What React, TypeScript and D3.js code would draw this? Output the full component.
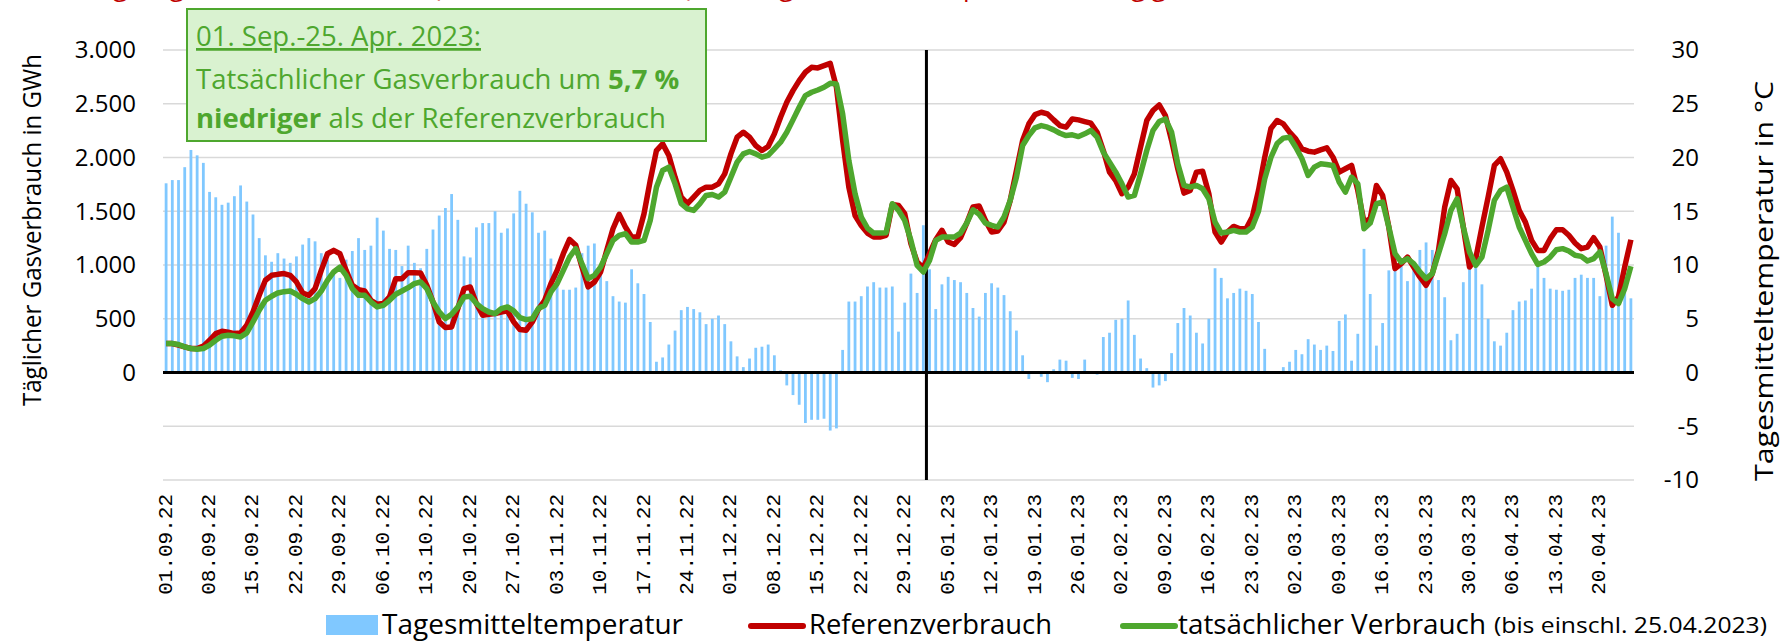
import React from 'react';
import * as d3 from 'd3';

// daily values 01.09.2022 - 25.04.2023
const firstDay = new Date(2022, 8, 1);
const dayAfterLast = new Date(2023, 3, 26);

const tickLabels = [
  '01.09.22', '08.09.22', '15.09.22', '22.09.22', '29.09.22', '06.10.22', '13.10.22', '20.10.22',
  '27.10.22', '03.11.22', '10.11.22', '17.11.22', '24.11.22', '01.12.22', '08.12.22', '15.12.22',
  '22.12.22', '29.12.22', '05.01.23', '12.01.23', '19.01.23', '26.01.23', '02.02.23', '09.02.23',
  '16.02.23', '23.02.23', '02.03.23', '09.03.23', '16.03.23', '23.03.23', '30.03.23', '06.04.23',
  '13.04.23', '20.04.23',
];

// Tagesmitteltemperatur in °C
const temperature = [
  17.6, 17.9, 17.9, 19.1, 20.7, 20.2, 19.5, 16.8, 16.3, 15.6,
  15.8, 16.4, 17.4, 15.9, 14.7, 12.5, 10.9, 10.3, 11.1, 10.6,
  10.2, 10.8, 11.9, 12.5, 12.2, 11.1, 10.5, 9.5, 8.8, 10.5,
  11.3, 12.5, 11.4, 11.8, 14.4, 13.2, 11.5, 11.4, 9.9, 11.8,
  10.2, 9.7, 11.5, 13.3, 14.6, 15.3, 16.6, 14.2, 10.8, 10.7,
  13.5, 13.9, 13.9, 15.0, 13.0, 13.4, 14.8, 16.9, 15.7, 14.9,
  13.0, 13.2, 10.6, 9.0, 7.7, 7.7, 7.9, 11.1, 11.8, 12.0,
  9.5, 8.5, 7.1, 6.6, 6.5, 9.6, 8.3, 7.3, 4.7, 1.0,
  1.4, 2.6, 3.9, 5.8, 6.1, 5.9, 5.6, 4.5, 5.0, 5.3,
  4.5, 2.9, 1.5, 0.5, 1.3, 2.3, 2.4, 2.6, 1.6, 0.2,
  -1.2, -2.1, -3.0, -4.7, -4.4, -4.4, -4.3, -5.4, -5.2, 2.1,
  6.6, 6.6, 7.1, 8.0, 8.4, 7.9, 7.9, 8.0, 3.8, 6.5,
  9.2, 7.4, 13.7, 9.6, 5.9, 8.2, 8.9, 8.6, 8.4, 7.4,
  6.0, 5.2, 7.4, 8.3, 7.9, 7.2, 5.7, 3.9, 1.6, -0.6,
  0.0, -0.4, -0.9, 0.3, 1.2, 1.1, -0.5, -0.6, 1.2, 0.0,
  -0.2, 3.3, 3.7, 4.9, 5.0, 6.7, 3.5, 1.3, 0.4, -1.4,
  -1.2, -0.8, 1.8, 4.6, 6.0, 5.3, 3.7, 2.7, 5.0, 9.7,
  8.8, 6.9, 7.4, 7.8, 7.6, 7.3, 4.7, 2.2, 0.0, 0.0,
  0.5, 1.0, 2.1, 1.7, 3.1, 2.6, 2.1, 2.5, 2.0, 4.8,
  5.4, 1.1, 3.6, 11.5, 7.3, 2.5, 4.6, 9.5, 9.6, 9.9,
  8.5, 9.5, 11.4, 12.1, 11.4, 8.6, 7.0, 3.0, 3.6, 8.4,
  9.7, 9.8, 8.2, 5.0, 2.9, 2.5, 3.7, 5.8, 6.6, 6.7,
  7.8, 9.9, 8.8, 7.8, 7.7, 7.6, 7.7, 8.8, 9.1, 8.8,
  8.8, 7.1, 11.8, 14.5, 13.0, 8.5, 6.9,
];

// Referenzverbrauch in GWh
const referenz = [
  269, 269, 254, 238, 223, 223, 245, 300, 362, 384,
  375, 362, 368, 440, 563, 718, 858, 904, 913, 920,
  904, 842, 740, 718, 780, 950, 1105, 1136, 1105, 950,
  811, 771, 758, 672, 635, 641, 703, 873, 873, 929,
  929, 926, 811, 656, 471, 418, 424, 594, 780, 796,
  641, 533, 542, 548, 563, 573, 471, 399, 393, 470,
  590, 672, 827, 950, 1105, 1238, 1183, 981, 796, 842,
  935, 1136, 1337, 1471, 1353, 1260, 1260, 1477, 1786, 2065,
  2127, 2019, 1817, 1632, 1570, 1632, 1694, 1724, 1724, 1755,
  1848, 2034, 2189, 2235, 2189, 2111, 2065, 2102, 2220, 2375,
  2514, 2622, 2715, 2793, 2839, 2833, 2854, 2876, 2653, 2158,
  1724, 1461, 1368, 1297, 1260, 1260, 1276, 1563, 1554, 1477,
  1198, 1028, 975, 1105, 1235, 1322, 1214, 1192, 1254, 1390,
  1539, 1548, 1415, 1307, 1316, 1399, 1601, 1879, 2158, 2313,
  2399, 2421, 2406, 2350, 2297, 2282, 2359, 2350, 2334, 2319,
  2235, 2065, 1864, 1786, 1663, 1724, 1848, 2096, 2344, 2437,
  2489, 2390, 2158, 1895, 1669, 1694, 1864, 1873, 1663, 1307,
  1214, 1307, 1359, 1337, 1337, 1446, 1694, 2000, 2270, 2344,
  2313, 2235, 2173, 2080, 2059, 2050, 2071, 2090, 2003, 1864,
  1895, 1926, 1694, 1399, 1430, 1740, 1647, 1353, 966, 1012,
  1074, 981, 889, 811, 920, 1136, 1539, 1786, 1709, 1353,
  981, 1059, 1353, 1632, 1926, 1988, 1864, 1694, 1508, 1399,
  1229, 1136, 1136, 1245, 1328, 1328, 1276, 1204, 1152, 1167,
  1254, 1167, 904, 625, 703, 981, 1235,
];

// tatsächlicher Verbrauch in GWh
const tatsaechlich = [
  269, 269, 260, 238, 223, 217, 223, 254, 300, 337,
  347, 341, 331, 368, 471, 579, 672, 709, 740, 752,
  758, 728, 687, 656, 687, 758, 857, 935, 981, 904,
  780, 718, 718, 656, 610, 625, 672, 728, 758, 789,
  827, 842, 780, 656, 563, 502, 542, 610, 703, 709,
  641, 594, 563, 548, 594, 610, 573, 511, 492, 500,
  595, 625, 749, 827, 950, 1074, 1152, 1012, 873, 904,
  981, 1105, 1229, 1276, 1291, 1214, 1214, 1229, 1415, 1724,
  1879, 1910, 1755, 1570, 1523, 1508, 1570, 1647, 1656, 1632,
  1678, 1817, 1957, 2034, 2056, 2034, 2003, 2019, 2080, 2142,
  2235, 2350, 2467, 2576, 2607, 2628, 2653, 2690, 2684, 2406,
  1972, 1663, 1446, 1344, 1297, 1297, 1300, 1570, 1508, 1415,
  1229, 997, 935, 1043, 1229, 1260, 1260, 1260, 1297, 1390,
  1514, 1471, 1390, 1368, 1353, 1446, 1601, 1817, 2111, 2204,
  2276, 2297, 2282, 2257, 2226, 2204, 2211, 2195, 2220, 2251,
  2189, 2050, 1957, 1864, 1755, 1632, 1647, 1848, 2065, 2251,
  2334, 2359, 2235, 1941, 1740, 1724, 1740, 1709, 1616, 1399,
  1297, 1307, 1322, 1307, 1307, 1353, 1500, 1800, 2000, 2130,
  2180, 2189, 2096, 1988, 1833, 1910, 1941, 1935, 1926, 1771,
  1678, 1817, 1755, 1337, 1390, 1570, 1585, 1353, 1105, 1028,
  1059, 1012, 935, 873, 920, 1105, 1291, 1508, 1616, 1353,
  1121, 997, 1074, 1322, 1601, 1694, 1724, 1539, 1353, 1229,
  1105, 1006, 1028, 1074, 1142, 1152, 1130, 1090, 1080, 1037,
  1059, 1121, 920, 687, 641, 780, 988,
];

const gasTicks = [0, 500, 1000, 1500, 2000, 2500, 3000];
const tempTicks = [-10, -5, 0, 5, 10, 15, 20, 25, 30];

const W = 1780;
const H = 641;
const font = "'Open Sans', sans-serif";
const green = '#4ea72e';
const red = '#c00000';
const blue = '#80c8ff';

const de = d3.formatLocale({ decimal: ',', thousands: '.', grouping: [3], currency: ['', ' €'] });
const fmtGas = de.format(',');

export default function App() {
  const days = d3.timeDay.range(firstDay, dayAfterLast);
  const fmtDay = d3.timeFormat('%d.%m.%y');

  const x = d3.scaleBand<number>()
    .domain(d3.range(days.length))
    .range([163, 1634])
    .paddingInner(0.55)
    .paddingOuter(0.275);
  const step = x.step();
  const cx = (i: number) => (x(i) as number) + x.bandwidth() / 2;

  const yT = d3.scaleLinear().domain([-10, 30]).range([480, 50]);
  const yG = d3.scaleLinear().domain([-1000, 3000]).range([480, 50]);

  const line = d3.line<number>()
    .x((_, i) => cx(i))
    .y(d => yG(d));

  const jan1 = days.findIndex(d => fmtDay(d) === '01.01.23');
  const splitX = cx(jan1) + step / 2;
  const midY = (yT(30) + yT(-10)) / 2;

  return (
    <div style={{ position: 'absolute', left: 0, top: 0 }}>
      <svg width={W} height={H} style={{ display: 'block', background: '#fff' }} fontFamily={font}>
        {/* title, almost entirely above the visible area as in the reference */}
        <text x={4} y={-4} fill={red} fontSize={26} fontFamily={font}>
          Abbildung: Täglicher Gasverbrauch (Haushalte, Gewerbe) im Vergleich zum temperaturabhängigen Referenzverbrauch
        </text>

        {/* gridlines */}
        {tempTicks.filter(t => t !== 0).map(t => (
          <line key={t} x1={163} x2={1634} y1={yT(t)} y2={yT(t)} stroke="#d9d9d9" strokeWidth={1.6} />
        ))}

        {/* temperature bars */}
        {temperature.map((t, i) => (
          <rect
            key={i}
            x={x(i)}
            width={x.bandwidth()}
            y={Math.min(yT(t), yT(0))}
            height={Math.abs(yT(t) - yT(0))}
            fill={blue}
          />
        ))}

        <line x1={163} x2={1634} y1={yT(0)} y2={yT(0)} stroke="#000" strokeWidth={3} />
        <line x1={splitX} x2={splitX} y1={yT(30)} y2={yT(-10)} stroke="#000" strokeWidth={3} />

        <path d={line(referenz) ?? ''} fill="none" stroke={red} strokeWidth={5.5} strokeLinejoin="round" />
        <path d={line(tatsaechlich) ?? ''} fill="none" stroke={green} strokeWidth={5.5} strokeLinejoin="round" />

        {/* left axis */}
        {gasTicks.map(v => (
          <text key={v} x={136} y={yG(v)} dy="0.35em" textAnchor="end" fontSize={24} fill="#000">
            {fmtGas(v)}
          </text>
        ))}
        <text
          transform={`translate(41,${yG(1000) - 35}) rotate(-90)`}
          textAnchor="middle"
          fontSize={26}
          textLength={352}
          lengthAdjust="spacingAndGlyphs"
        >
          Täglicher Gasverbrauch in GWh
        </text>

        {/* right axis */}
        {tempTicks.map(t => (
          <text key={t} x={1699} y={yT(t)} dy="0.35em" textAnchor="end" fontSize={24} fill="#000">
            {t}
          </text>
        ))}
        <text
          transform={`translate(1773,${midY + 16}) rotate(-90)`}
          textAnchor="middle"
          fontSize={26}
          textLength={400}
          lengthAdjust="spacingAndGlyphs"
        >
          Tagesmitteltemperatur in °C
        </text>

        {/* x axis labels */}
        {tickLabels.map(lbl => {
          const i = days.findIndex(d => fmtDay(d) === lbl);
          return (
            <text
              key={lbl}
              transform={`translate(${cx(i)},494) rotate(-90)`}
              textAnchor="end"
              dominantBaseline="central"
              fontSize={21}
              fontFamily="'Liberation Mono', monospace"
            >
              {lbl}
            </text>
          );
        })}

        {/* annotation box */}
        <rect x={187} y={9} width={519} height={132} fill="#d9f2d0" stroke={green} strokeWidth={2} />
        <text x={196} y={46} fill={green} fontSize={27.5} textDecoration="underline">01. Sep.-25. Apr. 2023:</text>
        <text x={196} y={89} fill={green} fontSize={27.5}>
          Tatsächlicher Gasverbrauch um <tspan fontWeight="bold">5,7 %</tspan>
        </text>
        <text x={196} y={128} fill={green} fontSize={27.5}>
          <tspan fontWeight="bold">niedriger</tspan> als der Referenzverbrauch
        </text>

        {/* legend */}
        <rect x={326} y={615} width={52} height={20} fill={blue} />
        <text x={382} y={634} fontSize={27} textLength={301} lengthAdjust="spacingAndGlyphs">Tagesmitteltemperatur</text>
        <line x1={751} x2={803} y1={626} y2={626} stroke={red} strokeWidth={6} strokeLinecap="round" />
        <text x={809} y={634} fontSize={27} textLength={243} lengthAdjust="spacingAndGlyphs">Referenzverbrauch</text>
        <line x1={1123} x2={1175} y1={626} y2={626} stroke={green} strokeWidth={6} strokeLinecap="round" />
        <text x={1178} y={634} fontSize={27} textLength={308} lengthAdjust="spacingAndGlyphs">tatsächlicher Verbrauch</text>
        <text x={1494} y={633} fontSize={22} textLength={273} lengthAdjust="spacingAndGlyphs">(bis einschl. 25.04.2023)</text>
      </svg>
    </div>
  );
}
